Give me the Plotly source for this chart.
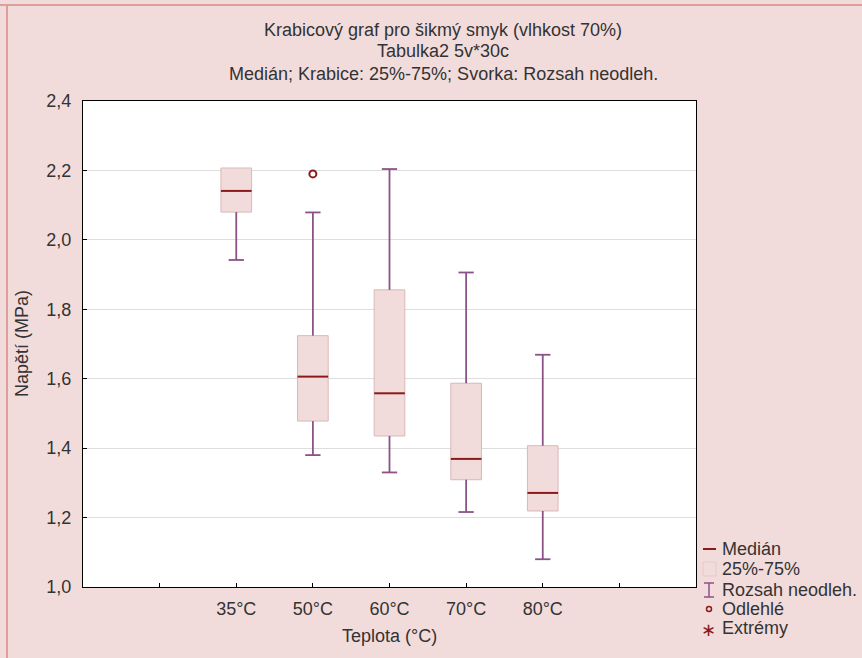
import plotly.graph_objects as go

# ---- data ----
categories = ["35°C", "50°C", "60°C", "70°C", "80°C"]
q1 = [2.080, 1.478, 1.435, 1.309, 1.219]
median = [2.141, 1.606, 1.558, 1.369, 1.271]
q3 = [2.207, 1.724, 1.856, 1.587, 1.407]
whisker_low = [1.942, 1.380, 1.330, 1.216, 1.080]
whisker_high = [2.207, 2.079, 2.204, 1.906, 1.669]
outlier_cat = ["50°C"]
outlier_val = [2.19]
y_ticks = [1.0, 1.2, 1.4, 1.6, 1.8, 2.0, 2.2, 2.4]

title_lines = ["Krabicový graf pro šikmý smyk (vlhkost 70%)",
               "Tabulka2 5v*30c",
               "Medián; Krabice: 25%-75%; Svorka: Rozsah neodleh."]
legend_labels = ["Medián", "25%-75%", "Rozsah neodleh.", "Odlehlé", "Extrémy"]

# ---- styles ----
BG = "#F2DCDB"
BOX_FILL = "#F2DCDB"
BOX_LINE = "#D8B8B8"
MED_COL = "#8B1A1A"
WHISK_COL = "#8C5288"
TXT = "#333333"
FONT = "Liberation Sans, Arial, sans-serif"
FS = 18

xpos = {c: i + 2 for i, c in enumerate(categories)}
xs = [xpos[c] for c in categories]
BOXW = 0.40
CAPH = 0.10

fig = go.Figure()

# boxes
fig.add_trace(go.Bar(x=xs, y=[b - a for a, b in zip(q1, q3)], base=q1, width=BOXW,
                     marker=dict(color=BOX_FILL, line=dict(color=BOX_LINE, width=1)),
                     showlegend=False, hoverinfo="skip"))

# whiskers
wx, wy = [], []
for x, a, b, lo, hi in zip(xs, q1, q3, whisker_low, whisker_high):
    if hi > b:
        wx += [x, x, None, x - CAPH, x + CAPH, None]
        wy += [b, hi, None, hi, hi, None]
    if lo < a:
        wx += [x, x, None, x - CAPH, x + CAPH, None]
        wy += [a, lo, None, lo, lo, None]
fig.add_trace(go.Scatter(x=wx, y=wy, mode="lines", line=dict(color=WHISK_COL, width=1.8),
                         showlegend=False, hoverinfo="skip"))

# medians
mx, my = [], []
for x, m in zip(xs, median):
    mx += [x - BOXW / 2, x + BOXW / 2, None]
    my += [m, m, None]
fig.add_trace(go.Scatter(x=mx, y=my, mode="lines", line=dict(color=MED_COL, width=2),
                         showlegend=False, hoverinfo="skip"))

# outliers
fig.add_trace(go.Scatter(x=[xpos[c] for c in outlier_cat], y=outlier_val, mode="markers",
                         marker=dict(symbol="circle-open", size=7, color=MED_COL,
                                     line=dict(width=2, color=MED_COL)),
                         showlegend=False, hoverinfo="skip"))

# ---- layout geometry (pixels) ----
W, H = 862, 658
L, R, T, B = 83, 166, 101, 71
PW, PH = W - L - R, H - T - B


def px(X):
    return (X - L) / PW


def py(Y):
    return (H - B - Y) / PH


annotations = []
for line, yy in zip(title_lines, [30, 51, 74]):
    annotations.append(dict(text=line, x=px(443), y=py(yy), xref="paper", yref="paper",
                            showarrow=False, xanchor="center", yanchor="middle",
                            font=dict(size=FS, color=TXT, family=FONT)))
annotations.append(dict(text="Napětí (MPa)", x=px(22), y=py(344), xref="paper", yref="paper",
                        showarrow=False, textangle=-90, xanchor="center", yanchor="middle",
                        font=dict(size=FS, color=TXT, family=FONT)))
annotations.append(dict(text="Teplota (°C)", x=px(390), y=py(636), xref="paper", yref="paper",
                        showarrow=False, xanchor="center", yanchor="middle",
                        font=dict(size=FS, color=TXT, family=FONT)))

leg_y = [549, 569, 590, 609, 628]
for lab, yy in zip(legend_labels, leg_y):
    annotations.append(dict(text=lab, x=px(720), y=py(yy), xref="paper", yref="paper",
                            showarrow=False, xanchor="left", yanchor="middle",
                            font=dict(size=FS, color=TXT, family=FONT)))
annotations.append(dict(text="∗", x=px(709), y=py(630), xref="paper", yref="paper",
                        showarrow=False, xanchor="center", yanchor="middle",
                        font=dict(size=18, color=MED_COL, family=FONT)))

shapes = [
    # figure border (top and left)
    dict(type="line", xref="paper", yref="paper", x0=px(0), x1=px(W), y0=py(5), y1=py(5),
         line=dict(color="#DE9E9C", width=2)),
    dict(type="line", xref="paper", yref="paper", x0=px(7), x1=px(7), y0=py(5), y1=py(H),
         line=dict(color="#DE9E9C", width=2)),
    # legend symbols
    dict(type="line", xref="paper", yref="paper", x0=px(703), x1=px(716), y0=py(549), y1=py(549),
         line=dict(color=MED_COL, width=2)),
    dict(type="rect", xref="paper", yref="paper", x0=px(703), x1=px(716), y0=py(562), y1=py(576),
         fillcolor=BOX_FILL, line=dict(color="#E6C8C8", width=1)),
    dict(type="line", xref="paper", yref="paper", x0=px(709), x1=px(709), y0=py(583), y1=py(597),
         line=dict(color=WHISK_COL, width=1.5)),
    dict(type="line", xref="paper", yref="paper", x0=px(704), x1=px(714), y0=py(583), y1=py(583),
         line=dict(color=WHISK_COL, width=1.5)),
    dict(type="line", xref="paper", yref="paper", x0=px(704), x1=px(714), y0=py(597), y1=py(597),
         line=dict(color=WHISK_COL, width=1.5)),
    dict(type="circle", xref="paper", yref="paper", x0=px(706.5), x1=px(711.5), y0=py(606.5), y1=py(611.5),
         line=dict(color=MED_COL, width=1.5)),
]

fig.update_layout(
    width=W, height=H,
    margin=dict(l=L, r=R, t=T, b=B, pad=0),
    paper_bgcolor=BG, plot_bgcolor="white",
    separators=", ",
    showlegend=False,
    barmode="overlay",
    font=dict(family=FONT, color=TXT, size=FS),
    annotations=annotations,
    shapes=shapes,
    xaxis=dict(range=[0, 8], tickmode="array", tickvals=[1, 2, 3, 4, 5, 6, 7],
               ticktext=[""] + categories + [""], ticks="inside", ticklen=4,
               tickcolor="black", showgrid=False, zeroline=False,
               showline=True, linecolor="black", linewidth=1, mirror=True,
               tickfont=dict(size=FS, color=TXT), ticklabelstandoff=5),
    yaxis=dict(range=[1.0, 2.4], tickmode="array", tickvals=y_ticks,
               tickformat=".1f", ticks="inside", ticklen=4, tickcolor="black",
               showgrid=True, gridcolor="#DDDDDD", gridwidth=1, zeroline=False,
               showline=True, linecolor="black", linewidth=1, mirror=True,
               tickfont=dict(size=FS, color=TXT), ticklabelstandoff=7),
)

fig.write_html("out.html")
